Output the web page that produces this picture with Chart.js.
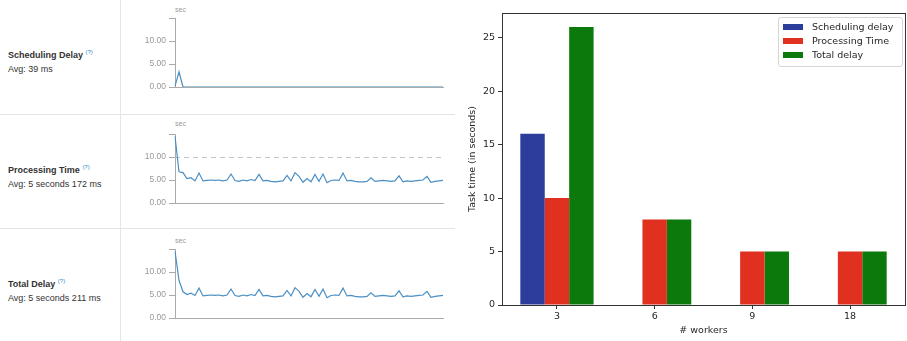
<!DOCTYPE html>
<html>
<head>
<meta charset="utf-8">
<script src="https://cdn.jsdelivr.net/npm/chart.js@4"></script>
<style>
body { margin: 0; width: 907px; height: 341px; background: #fff; position: relative; overflow: hidden; font-family: "Liberation Sans", Arial, sans-serif; }
canvas { position: absolute; }
.stat { position: absolute; left: 8px; font-size: 9px; line-height: 14px; color: #333; white-space: nowrap; }
.stat b sup { color: #2a8ad0; font-weight: normal; font-size: 6px; }
.sec { position: absolute; font-size: 7px; line-height: 8px; color: #999; }
.sep-h { position: absolute; left: 0; width: 455px; height: 1px; background: #e4e4e4; }
.sep-v { position: absolute; left: 120px; top: 0; width: 1px; height: 341px; background: #e4e4e4; }
#legend { position: absolute; left: 778px; top: 17px; width: 125px; height: 50px; border: 1px solid #d6d6d6; border-radius: 3px; font-family: "DejaVu Sans", sans-serif; font-size: 9.5px; color: #262626; box-sizing: border-box; padding-top: 2px; }
#legend .row { height: 14px; line-height: 14px; position: relative; padding-left: 33px; white-space: nowrap; }
#legend .patch { position: absolute; left: 4px; top: 4px; width: 20px; height: 6px; }
</style>
</head>
<body>

<div class="sep-v"></div>
<div class="sep-h" style="top:114px"></div>
<div class="sep-h" style="top:228px"></div>

<div class="stat" style="top:45px"><b>Scheduling Delay <sup>(?)</sup></b><br>Avg: 39 ms</div>
<div class="stat" style="top:160px"><b>Processing Time <sup>(?)</sup></b><br>Avg: 5 seconds 172 ms</div>
<div class="stat" style="top:274px"><b>Total Delay <sup>(?)</sup></b><br>Avg: 5 seconds 211 ms</div>

<div class="sec" style="left:175px; top:6px">sec</div>
<div class="sec" style="left:175px; top:120px">sec</div>
<div class="sec" style="left:175px; top:237px">sec</div>

<canvas id="spark1" width="330" height="100" style="left:120px; top:0px"></canvas>
<canvas id="spark2" width="330" height="100" style="left:120px; top:116px"></canvas>
<canvas id="spark3" width="330" height="100" style="left:120px; top:231px"></canvas>

<canvas id="bars" width="447" height="341" style="left:460px; top:0px"></canvas>
<div id="legend"></div>

<script>
// sparkline series (seconds per batch)
const schedulingDelay = [0.2, 3.3, 0, 0, 0, 0, 0, 0, 0, 0,
  0, 0, 0, 0, 0, 0, 0, 0, 0, 0,
  0, 0, 0, 0, 0, 0, 0, 0, 0, 0,
  0, 0, 0, 0, 0, 0, 0, 0, 0, 0,
  0, 0, 0, 0, 0, 0, 0, 0, 0, 0,
  0, 0, 0, 0, 0, 0, 0, 0, 0, 0,
  0, 0, 0, 0, 0, 0, 0, 0];
const processingTime = [14.5, 6.8, 6.6, 5.3, 5.5, 4.8, 6.5, 4.8, 4.9, 5.0,
  4.9, 5.0, 4.8, 5.0, 6.3, 4.9, 4.7, 5.0, 4.8, 5.1,
  4.9, 6.2, 4.8, 4.9, 4.7, 4.6, 4.7, 4.8, 6.0, 4.8,
  6.6, 5.8, 4.5, 5.3, 4.6, 6.2, 4.7, 6.3, 4.4, 4.9,
  5.0, 4.9, 6.5, 4.8, 4.9, 4.7, 4.6, 4.6, 4.7, 5.5,
  4.7, 4.8, 4.9, 4.8, 4.7, 4.8, 5.9, 4.6, 4.8, 4.7,
  4.8, 4.9, 5.0, 5.8, 4.5, 4.7, 4.8, 4.9];
const totalDelay = [14.5, 8.2, 5.7, 5.1, 5.4, 4.9, 6.5, 4.8, 4.9, 5.0,
  4.9, 5.0, 4.8, 5.0, 6.3, 4.9, 4.7, 5.0, 4.8, 5.1,
  4.9, 6.2, 4.8, 4.9, 4.7, 4.6, 4.7, 4.8, 6.0, 4.8,
  6.6, 5.8, 4.5, 5.3, 4.6, 6.2, 4.7, 6.3, 4.4, 4.9,
  5.0, 4.9, 6.5, 4.8, 4.9, 4.7, 4.6, 4.6, 4.7, 5.5,
  4.7, 4.8, 4.9, 4.8, 4.7, 4.8, 5.9, 4.6, 4.8, 4.7,
  4.8, 4.9, 5.0, 5.8, 4.5, 4.7, 4.8, 4.9];
const batches = processingTime.map((v, i) => i + 1);
const sparkTicks = [0, 5, 10, 15];
const SPARK_MAX = 15;
const BATCH_INTERVAL = 10;

// bar chart data
const workers = ["3", "6", "9", "18"];
const seriesNames = ["Scheduling delay", "Processing Time", "Total delay"];
const schedulingAvg = [16, 0, 0, 0];
const processingAvg = [10, 8, 5, 5];
const totalAvg = [26, 8, 5, 5];
const barTicks = [0, 5, 10, 15, 20, 25];
const barColors = ["#2c3d9c", "#e0301f", "#0b790b"];

const batchLine = {
    id: "batchLine",
    beforeDatasetsDraw(chart) {
        const { ctx, chartArea, scales: { y } } = chart;
        const py = Math.round(y.getPixelForValue(BATCH_INTERVAL)) + 0.5;
        ctx.save();
        ctx.strokeStyle = "#c4c4c4";
        ctx.lineWidth = 1;
        ctx.setLineDash([5, 4]);
        ctx.beginPath();
        ctx.moveTo(chartArea.left, py);
        ctx.lineTo(chartArea.right, py);
        ctx.stroke();
        ctx.restore();
    }
};

function sparkline(id, values, withBatchLine) {
    return new Chart(document.getElementById(id), {
        type: "line",
        data: {
            labels: batches,
            datasets: [{
                data: values,
                borderColor: "#4a8fc4",
                borderWidth: 1.2,
                pointRadius: 0,
                tension: 0,
                fill: false
            }]
        },
        options: {
            responsive: false,
            animation: false,
            layout: { padding: { top: 18, right: 7, bottom: 0, left: 0 } },
            plugins: { legend: { display: false }, tooltip: { enabled: false } },
            scales: {
                x: {
                    ticks: { display: false },
                    grid: { display: true, drawOnChartArea: false, drawTicks: false },
                    border: { color: "#aaa" },
                    afterFit: s => { s.height = 13; }
                },
                y: {
                    min: 0,
                    max: SPARK_MAX,
                    afterBuildTicks: s => { s.ticks = sparkTicks.map(v => ({ value: v })); },
                    ticks: {
                        callback: v => v === SPARK_MAX ? "" : v.toFixed(2),
                        font: { size: 8.5, family: "Liberation Sans" },
                        color: "#999",
                        padding: 3
                    },
                    grid: { drawOnChartArea: false, tickLength: 6, color: "#aaa" },
                    border: { color: "#aaa" },
                    afterFit: s => { s.width = 55; }
                }
            }
        },
        plugins: withBatchLine ? [batchLine] : []
    });
}

sparkline("spark1", schedulingDelay, false);
sparkline("spark2", processingTime, true);
sparkline("spark3", totalDelay, false);

// cadre complet autour de la zone de tracé (style matplotlib)
const frame = {
    id: "frame",
    afterDraw(chart) {
        const { ctx, chartArea: a } = chart;
        ctx.save();
        ctx.strokeStyle = "#333";
        ctx.lineWidth = 1;
        ctx.strokeRect(Math.round(a.left) + 0.5, Math.round(a.top) + 0.5, Math.round(a.right - a.left), Math.round(a.bottom - a.top));
        ctx.restore();
    }
};

const textFont = { family: "DejaVu Sans", size: 9.5 };
const textColor = "#262626";
const averages = [schedulingAvg, processingAvg, totalAvg];

const barChart = new Chart(document.getElementById("bars"), {
    type: "bar",
    data: {
        datasets: seriesNames.map((name, k) => ({
            label: name,
            data: workers.map((w, i) => ({ x: i, y: averages[k][i] })),
            backgroundColor: barColors[k],
            borderWidth: 0
        }))
    },
    options: {
        responsive: false,
        animation: false,
        datasets: { bar: { categoryPercentage: 0.75, barPercentage: 1 } },
        layout: { padding: { top: 13, right: 2, bottom: 0, left: 0 } },
        plugins: { legend: { display: false }, tooltip: { enabled: false } },
        scales: {
            x: {
                type: "linear",
                offset: false,
                min: -0.5625,
                max: 3.5625,
                afterBuildTicks: s => { s.ticks = workers.map((w, i) => ({ value: i })); },
                ticks: { callback: v => workers[v], font: textFont, color: textColor, padding: 2, maxRotation: 0 },
                grid: { offset: false, drawOnChartArea: false, tickLength: 4, color: "#333" },
                border: { color: "#333" },
                title: { display: true, text: "# workers", font: textFont, color: textColor, padding: { top: 0, bottom: 5 } },
                afterFit: s => { s.height = 36; }
            },
            y: {
                min: 0,
                max: 27.3,
                afterBuildTicks: s => { s.ticks = barTicks.map(v => ({ value: v })); },
                ticks: { font: textFont, color: textColor, padding: 3 },
                grid: { drawOnChartArea: false, tickLength: 4, color: "#333" },
                border: { color: "#333" },
                title: { display: true, text: "Task time (in seconds)", font: textFont, color: textColor, padding: { top: 7, bottom: 0 } },
                afterFit: s => { s.width = 42; }
            }
        }
    },
    plugins: [frame]
});

// légende HTML
const legend = document.getElementById("legend");
barChart.data.datasets.forEach(ds => {
    const row = document.createElement("div");
    row.className = "row";
    row.innerHTML = `<span class="patch" style="background:${ds.backgroundColor}"></span>${ds.label}`;
    legend.appendChild(row);
});
</script>
</body>
</html>
